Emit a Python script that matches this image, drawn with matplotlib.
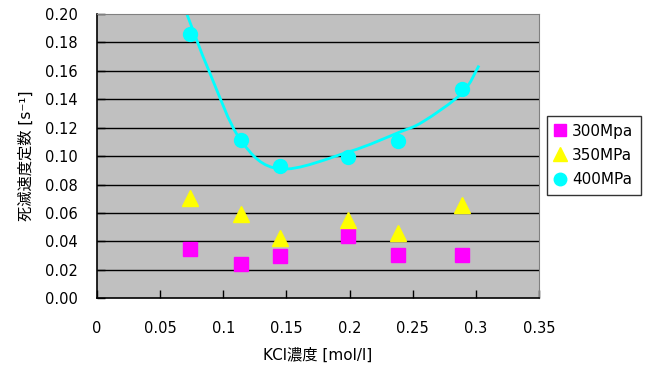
import numpy as np
import matplotlib
matplotlib.use("Agg")
import matplotlib.pyplot as plt
from matplotlib.path import Path
from matplotlib.patches import PathPatch

plt.rcParams['font.family'] = ['DejaVu Sans', 'Noto Sans CJK JP']

# KCl concentration [mol/l]
kcl = [0.0736, 0.1137, 0.1453, 0.1992, 0.2388, 0.2890]

# death rate constants [1/s]
k_300 = [0.0347, 0.0239, 0.0295, 0.0438, 0.0307, 0.0307]
k_350 = [0.0704, 0.0593, 0.0423, 0.0553, 0.0462, 0.0655]
k_400 = [0.186, 0.1114, 0.0933, 0.0997, 0.1105, 0.147]

# approximate curve for 400MPa
curve_x = [0.0709, 0.0889, 0.1137, 0.1450, 0.2000, 0.2388, 0.2583, 0.2890, 0.3025]
curve_y = [0.2006, 0.1595, 0.1114, 0.0910, 0.1032, 0.1166, 0.1243, 0.1443, 0.1637]


def smooth_path(xs, ys):
    # catmull-rom style bezier, like a spreadsheet "smoothed line"
    pts = np.column_stack([xs, ys])
    verts = [pts[0]]
    codes = [Path.MOVETO]
    n = len(pts)
    for i in range(n - 1):
        p0 = pts[max(i - 1, 0)]
        p1 = pts[i]
        p2 = pts[i + 1]
        p3 = pts[min(i + 2, n - 1)]
        verts += [p1 + (p2 - p0) / 6, p2 - (p3 - p1) / 6, p2]
        codes += [Path.CURVE4] * 3
    return Path(verts, codes)


fig = plt.figure(figsize=(6.54, 3.67), dpi=100)
ax = fig.add_axes([0.1483, 0.1872, 0.824 - 0.1483, 0.9619 - 0.1872])
ax.set_facecolor('#C0C0C0')

for y in np.arange(0.02, 0.20, 0.02):
    ax.axhline(y, color='black', lw=1.0, zorder=1)

ax.add_patch(PathPatch(smooth_path(curve_x, curve_y), fill=False,
                       edgecolor='#00FFFF', lw=2, zorder=2))

ax.plot(kcl, k_300, 's', color='#FF00FF', ms=10, ls='none', label='300Mpa', zorder=3)
ax.plot(kcl, k_350, '^', color='#FFFF00', ms=11, ls='none', label='350MPa', zorder=3)
ax.plot(kcl, k_400, 'o', color='#00FFFF', ms=10, ls='none', label='400MPa', zorder=3)

ax.set_xlim(0, 0.35)
ax.set_ylim(0, 0.20)
ax.set_xticks([0, 0.05, 0.1, 0.15, 0.2, 0.25, 0.3, 0.35])
ax.set_xticklabels(['0', '0.05', '0.1', '0.15', '0.2', '0.25', '0.3', '0.35'])
ax.set_yticks(np.arange(0, 0.201, 0.02))
ax.set_yticklabels([f'{v:.2f}' for v in np.arange(0, 0.201, 0.02)])
ax.tick_params(axis='x', direction='in', length=6, width=1, pad=16, labelsize=10.5)
ax.tick_params(axis='y', direction='in', length=6, width=1, pad=14, labelsize=10.5)

for side in ['top', 'right']:
    ax.spines[side].set_color('#808080')
for side in ['left', 'bottom']:
    ax.spines[side].set_color('black')
    ax.spines[side].set_linewidth(1.2)

ax.set_xlabel('KCl濃度 [mol/l]', fontsize=11, labelpad=9)
ax.set_ylabel('死滅速度定数 [s⁻¹]', fontsize=11, labelpad=8)

leg = fig.legend(loc='upper left', bbox_to_anchor=(0.8364, 0.684), fontsize=11,
                 frameon=True, fancybox=False, edgecolor='black', handlelength=0.7,
                 handletextpad=0.42, borderpad=0.5, labelspacing=0.6, markerscale=0.9,
                 borderaxespad=0)
leg.get_frame().set_linewidth(1.0)

fig.savefig('out.png', dpi=100)
